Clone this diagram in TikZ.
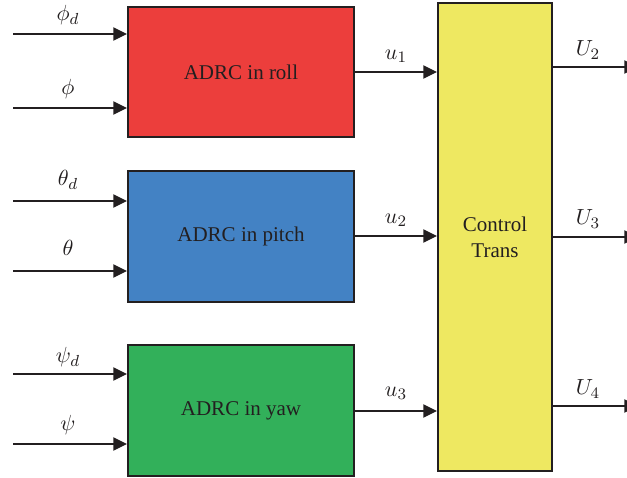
\documentclass[tikz,border=0pt]{standalone}
\usepackage{fontspec}
\setmainfont{Liberation Serif}
\usetikzlibrary{arrows.meta}
\definecolor{txt}{HTML}{231F20}
\definecolor{cred}{HTML}{EC3E3C}
\definecolor{cblue}{HTML}{4382C4}
\definecolor{cgreen}{HTML}{32B05A}
\definecolor{cyellow}{HTML}{EEE861}
\begin{document}
\begin{tikzpicture}[x=0.5pt,y=-0.5pt,
  blk/.style={draw=txt,line width=1pt,inner sep=0pt,text=txt,font=\fontsize{10.5}{13}\selectfont,align=center},
  sig/.style={draw=txt,line width=0.65pt,-{Triangle[length=6.8pt,width=6.6pt]}},
  lab/.style={text=txt,font=\fontsize{11}{12}\selectfont,inner sep=0pt}]
\useasboundingbox (0,0) rectangle (627,477);
% blocks
\node[blk,fill=cred,minimum width=113pt,minimum height=65pt] (roll) at (241,72) {ADRC in roll};
\node[blk,fill=cblue,minimum width=113pt,minimum height=65.5pt] (pitch) at (241,236.5) {ADRC in pitch};
\node[blk,fill=cgreen,minimum width=113pt,minimum height=65.5pt] (yaw) at (241,410.5) {ADRC in yaw};
\node[blk,fill=cyellow,minimum width=57pt,minimum height=234pt] (ct) at (495,237) {Control\\Trans};
% input coordinates
\coordinate (i1) at (13,34);
\coordinate (i2) at (13,108);
\coordinate (i3) at (13,201);
\coordinate (i4) at (13,271);
\coordinate (i5) at (13,374);
\coordinate (i6) at (13,444);
\draw[sig] (i1) -- (roll.west |- i1);
\draw[sig] (i2) -- (roll.west |- i2);
\draw[sig] (i3) -- (pitch.west |- i3);
\draw[sig] (i4) -- (pitch.west |- i4);
\draw[sig] (i5) -- (yaw.west |- i5);
\draw[sig] (i6) -- (yaw.west |- i6);
\node[lab] (l1) at (68,15) {$\phi_d$};
\node[lab] (l2) at (68,89) {$\phi$};
\node[lab] (l3) at (68,180) {$\theta_d$};
\node[lab] (l4) at (68,248) {$\theta$};
\node[lab] (l5) at (68,357) {$\psi_d$};
\node[lab] (l6) at (68,425) {$\psi$};
% u arrows
\coordinate (u1s) at (354,72);
\coordinate (u2s) at (354,236);
\coordinate (u3s) at (354,411);
\draw[sig] (u1s) -- (ct.west |- u1s);
\draw[sig] (u2s) -- (ct.west |- u2s);
\draw[sig] (u3s) -- (ct.west |- u3s);
\node[lab] (m1) at (396,56) {$u_1$};
\node[lab] (m2) at (396,220) {$u_2$};
\node[lab] (m3) at (396,393) {$u_3$};
% outputs
\coordinate (o1) at (638,67);
\coordinate (o2) at (638,237);
\coordinate (o3) at (638,406);
\draw[sig] (ct.east |- o1) -- (o1);
\draw[sig] (ct.east |- o2) -- (o2);
\draw[sig] (ct.east |- o3) -- (o3);
\node[lab] (n1) at (588,50) {$U_2$};
\node[lab] (n2) at (588,219) {$U_3$};
\node[lab] (n3) at (588,389) {$U_4$};
\end{tikzpicture}
\end{document}
